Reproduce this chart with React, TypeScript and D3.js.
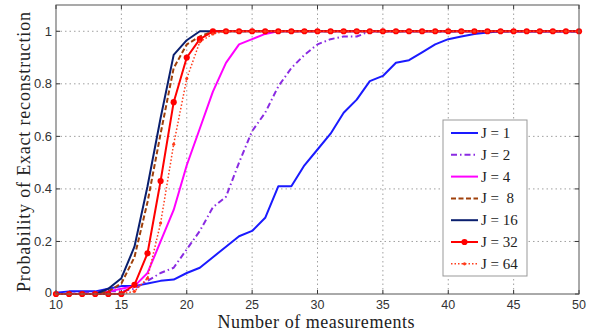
import React from "react";
import * as d3 from "d3";

// measurement counts 10..50
const measurements = d3.range(10, 51);

const j1 = [0.005, 0.01, 0.01, 0.01, 0.02, 0.03, 0.03, 0.04, 0.05, 0.055, 0.08, 0.1, 0.14, 0.18, 0.22, 0.24, 0.29, 0.41, 0.41, 0.49, 0.55, 0.61, 0.69, 0.74, 0.81, 0.83, 0.88, 0.89, 0.92, 0.95, 0.97, 0.98, 0.99, 0.995, 1, 1, 1, 1, 1, 1, 1];
const j2 = [0, 0, 0.005, 0.005, 0.01, 0.01, 0.02, 0.05, 0.08, 0.1, 0.17, 0.24, 0.33, 0.37, 0.5, 0.62, 0.69, 0.79, 0.86, 0.91, 0.95, 0.97, 0.98, 0.98, 1, 1, 1, 1, 1, 1, 1, 1, 1, 1, 1, 1, 1, 1, 1, 1, 1];
const j4 = [0, 0, 0, 0, 0.01, 0.02, 0.03, 0.08, 0.2, 0.32, 0.49, 0.63, 0.77, 0.88, 0.95, 0.97, 0.99, 1, 1, 1, 1, 1, 1, 1, 1, 1, 1, 1, 1, 1, 1, 1, 1, 1, 1, 1, 1, 1, 1, 1, 1];
const j8 = [0, 0, 0, 0, 0.01, 0.04, 0.14, 0.35, 0.61, 0.86, 0.95, 0.98, 1, 1, 1, 1, 1, 1, 1, 1, 1, 1, 1, 1, 1, 1, 1, 1, 1, 1, 1, 1, 1, 1, 1, 1, 1, 1, 1, 1, 1];
const j16 = [0, 0, 0, 0, 0.02, 0.06, 0.18, 0.41, 0.67, 0.91, 0.966, 1, 1, 1, 1, 1, 1, 1, 1, 1, 1, 1, 1, 1, 1, 1, 1, 1, 1, 1, 1, 1, 1, 1, 1, 1, 1, 1, 1, 1, 1];
const j32 = [0, 0, 0, 0, 0, 0, 0.035, 0.155, 0.43, 0.73, 0.9, 0.97, 1, 1, 1, 1, 1, 1, 1, 1, 1, 1, 1, 1, 1, 1, 1, 1, 1, 1, 1, 1, 1, 1, 1, 1, 1, 1, 1, 1, 1];
const j64 = [0, 0, 0, 0, 0, 0, 0.01, 0.06, 0.27, 0.57, 0.82, 0.96, 0.99, 1, 1, 1, 1, 1, 1, 1, 1, 1, 1, 1, 1, 1, 1, 1, 1, 1, 1, 1, 1, 1, 1, 1, 1, 1, 1, 1, 1];

const xTicks = [10, 15, 20, 25, 30, 35, 40, 45, 50];
const yTicks = [0, 0.2, 0.4, 0.6, 0.8, 1];
const legendLabels = ["J = 1", "J = 2", "J = 4", "J =  8", "J = 16", "J = 32", "J = 64"];

const series = [
  { values: j1, color: "#1a1aff", dash: "", width: 2 },
  { values: j2, color: "#8a2be2", dash: "6,3,1.5,3", width: 2 },
  { values: j4, color: "#ff00ff", dash: "", width: 2 },
  { values: j8, color: "#a0400a", dash: "5,2.5", width: 2 },
  { values: j16, color: "#0a1f6e", dash: "", width: 2 },
  { values: j32, color: "#ff0000", dash: "", width: 2, marker: 3.1 },
  { values: j64, color: "#ff3b1a", dash: "1.5,2", width: 1.5, marker: 1.6 },
];

const W = 598;
const H = 334;
const margin = { top: 5, right: 19, bottom: 40, left: 56 };

const serif = "Liberation Serif, Times New Roman, serif";
const sans = "Liberation Sans, Arial, sans-serif";

export default function App() {
  const x = d3.scaleLinear().domain([10, 50]).range([margin.left, W - margin.right]);
  const y = d3.scaleLinear().domain([0, 1.1]).range([H - margin.bottom, margin.top]);
  const line = d3
    .line<number>()
    .x((_, i) => x(measurements[i]))
    .y((d) => y(d));

  const x0 = margin.left;
  const x1 = W - margin.right;
  const y0 = H - margin.bottom;
  const y1 = margin.top;

  const lg = { x: 443, y: 120, w: 84, h: 156, step: 21.8 };

  return (
    <svg width={W} height={H} style={{ position: "absolute", left: 0, top: 0, background: "#fff" }}>
      <rect x={x0} y={y1} width={x1 - x0} height={y0 - y1} fill="#fff" />
      {/* grid */}
      {xTicks.slice(1, -1).map((t) => (
        <line key={"gx" + t} x1={x(t)} x2={x(t)} y1={y0} y2={y1} stroke="#888" strokeWidth={0.8} strokeDasharray="1.5,3" />
      ))}
      {yTicks.slice(1).map((t) => (
        <line key={"gy" + t} x1={x0} x2={x1} y1={y(t)} y2={y(t)} stroke="#888" strokeWidth={0.8} strokeDasharray="1.5,3" />
      ))}
      {/* ticks */}
      {xTicks.map((t) => (
        <g key={"tx" + t}>
          <line x1={x(t)} x2={x(t)} y1={y0} y2={y0 - 4} stroke="#333" />
          <line x1={x(t)} x2={x(t)} y1={y1} y2={y1 + 4} stroke="#333" />
          <text x={x(t)} y={y0 + 15} textAnchor="middle" fontFamily={sans} fontSize={12.5} fill="#333">
            {t}
          </text>
        </g>
      ))}
      {yTicks.map((t) => (
        <g key={"ty" + t}>
          <line x1={x0} x2={x0 + 4} y1={y(t)} y2={y(t)} stroke="#333" />
          <line x1={x1} x2={x1 - 4} y1={y(t)} y2={y(t)} stroke="#333" />
          <text x={x0 - 4} y={y(t) + (t === 0 ? 3 : 4.5)} textAnchor="end" fontFamily={sans} fontSize={13} fill="#333">
            {t}
          </text>
        </g>
      ))}
      {/* series */}
      {series.map((s, k) => (
        <g key={"s" + k}>
          <path d={line(s.values) || ""} fill="none" stroke={s.color} strokeWidth={s.width} strokeDasharray={s.dash} strokeLinejoin="round" />
          {s.marker
            ? s.values.map((v, i) => (
                <circle key={i} cx={x(measurements[i])} cy={y(v)} r={s.marker} fill={s.color} />
              ))
            : null}
        </g>
      ))}
      {/* frame */}
      <rect x={x0} y={y1} width={x1 - x0} height={y0 - y1} fill="none" stroke="#555" strokeWidth={1} />
      {/* legend */}
      <g>
        <rect x={lg.x} y={lg.y} width={lg.w} height={lg.h} fill="#fff" stroke="#999" strokeWidth={1} />
        {series.map((s, k) => {
          const ly = lg.y + 13 + k * lg.step;
          return (
            <g key={"l" + k}>
              <line x1={lg.x + 8} x2={lg.x + 35} y1={ly} y2={ly} stroke={s.color} strokeWidth={s.width} strokeDasharray={s.dash} />
              {s.marker ? <circle cx={lg.x + 21.5} cy={ly} r={s.marker} fill={s.color} /> : null}
              <text x={lg.x + 38} y={ly + 5} fontFamily={serif} fontSize={15} fill="#222" style={{ whiteSpace: "pre" }}>
                {legendLabels[k]}
              </text>
            </g>
          );
        })}
      </g>
      {/* axis titles */}
      <text x={316} y={328} textAnchor="middle" fontFamily={serif} fontSize={18} fill="#222" textLength={197} lengthAdjust="spacing">
        Number of measurements
      </text>
      <text
        transform={`translate(30,${152}) rotate(-90)`}
        textAnchor="middle"
        fontFamily={serif}
        fontSize={18}
        fill="#222"
        textLength={280}
        lengthAdjust="spacing"
      >
        Probability of Exact reconstruction
      </text>
    </svg>
  );
}
